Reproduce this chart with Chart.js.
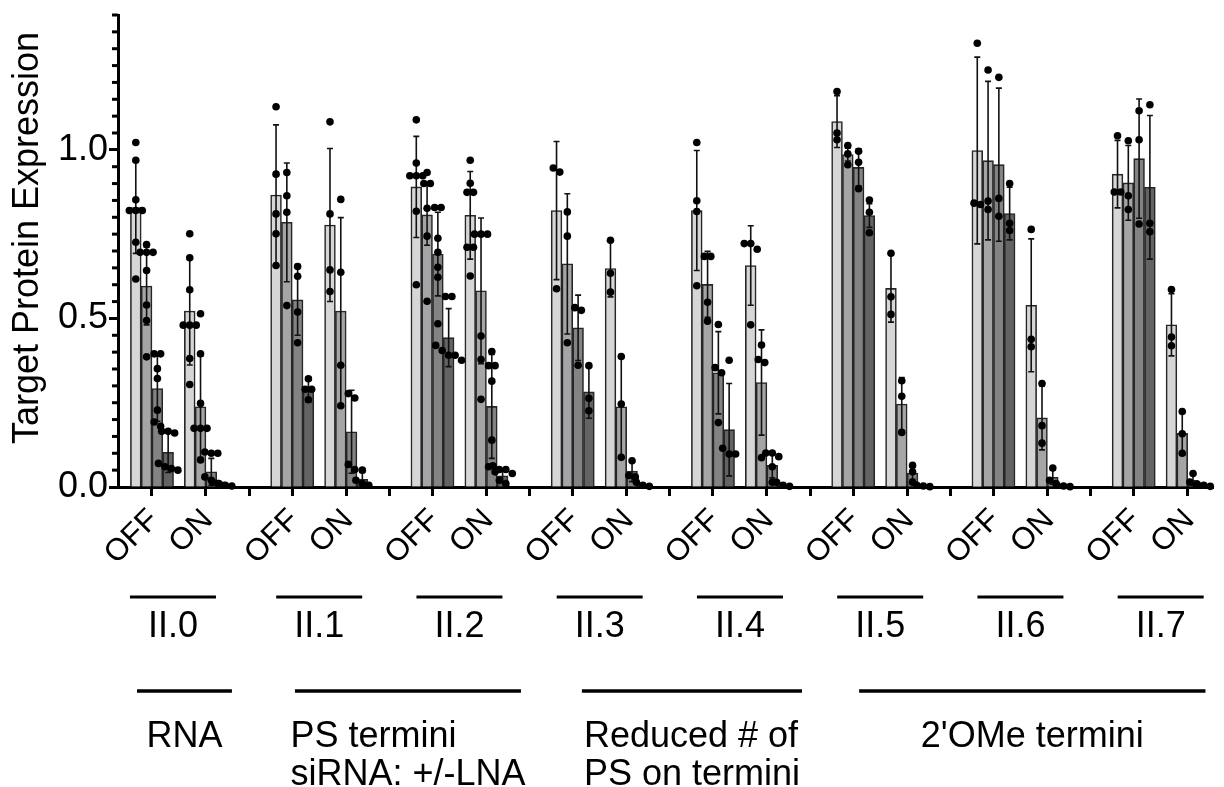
<!DOCTYPE html>
<html>
<head>
<meta charset="utf-8">
<script src="https://cdn.jsdelivr.net/npm/chart.js@4.4.0/dist/chart.umd.min.js"></script>
<style>
  html, body { margin: 0; padding: 0; background: #fff; }
  canvas { display: block; }
</style>
</head>
<body>
<canvas id="chart" width="1224" height="787"></canvas>
<script>
// constructs, each measured OFF and ON
const groups = ["II.0", "II.1", "II.2", "II.3", "II.4", "II.5", "II.6", "II.7"];
const states = ["OFF", "ON"];
const categoryLabels = [["RNA"], ["PS termini", "siRNA: +/-LNA"], ["Reduced # of", "PS on termini"], ["2'OMe termini"]];

// bar heights, order: II.0 OFF, II.0 ON, II.1 OFF, II.1 ON, ...
const mean1 = [0.829, 0.522, 0.866, 0.777, 0.890, 0.806, 0.820, 0.648, 0.820, 0.657, 1.084, 0.589, 0.998, 0.539, 0.928, 0.481];
const mean2 = [0.596, 0.238, 0.785, 0.522, 0.807, 0.582, 0.662, 0.238, 0.601, 0.310, 0.986, 0.246, 0.968, 0.205, 0.902, 0.159];
const mean3 = [0.292, 0.045, 0.555, 0.164, 0.691, 0.239, 0.472, 0.047, 0.339, 0.064, 0.948, 0.041, 0.956, 0.029, 0.974, 0.020];
const mean4 = [0.103, 0.008, 0.289, 0.023, 0.443, 0.033, 0.282, 0.005, 0.170, 0.006, 0.805, 0.003, 0.811, 0.003, 0.889, 0.005];

// standard deviations (error bars)
const sd1 = [0.136, 0.160, 0.208, 0.227, 0.150, 0.130, 0.205, 0.084, 0.178, 0.118, 0.077, 0.100, 0.277, 0.197, 0.100, 0.092];
const sd2 = [0.115, 0.150, 0.176, 0.277, 0.090, 0.216, 0.208, 0.149, 0.098, 0.156, 0.019, 0.079, 0.235, 0.095, 0.111, 0.065];
const sd3 = [0.097, 0.040, 0.105, 0.123, 0.124, 0.154, 0.097, 0.031, 0.122, 0.037, 0.055, 0.018, 0.227, 0.021, 0.177, 0.015];
const sd4 = [0.060, 0.005, 0.037, 0.020, 0.086, 0.020, 0.078, 0.005, 0.137, 0.005, 0.035, 0.002, 0.078, 0.002, 0.213, 0.003];

// individual replicates
const pts1 = [
  [1.022, 0.969, 0.852, 0.82, 0.82, 0.82, 0.726, 0.617], [0.751, 0.68, 0.585, 0.48, 0.48, 0.48, 0.381, 0.304],
  [1.128, 0.928, 0.810, 0.751, 0.657], [1.083, 0.810, 0.644, 0.580],
  [1.089, 0.961, 0.923, 0.923, 0.923, 0.818, 0.600], [0.969, 0.901, 0.874, 0.874, 0.711, 0.711, 0.626],
  [0.946, 0.934, 0.588], [0.732, 0.634, 0.578],
  [1.022, 0.849, 0.817, 0.597], [0.722, 0.722, 0.705, 0.481],
  [1.173, 1.050, 1.030], [0.693, 0.564, 0.512],
  [1.316, 0.842, 0.838], [0.764, 0.438, 0.416],
  [1.042, 0.875, 0.875], [0.586, 0.445, 0.419]
];
const pts2 = [
  [0.719, 0.696, 0.696, 0.696, 0.642, 0.540, 0.494, 0.386], [0.514, 0.395, 0.248, 0.174, 0.174, 0.174, 0.08],
  [0.933, 0.864, 0.815, 0.538], [0.853, 0.637, 0.361, 0.241],
  [0.933, 0.900, 0.900, 0.827, 0.744, 0.551], [0.750, 0.750, 0.750, 0.448, 0.378, 0.260],
  [0.816, 0.744, 0.428], [0.387, 0.246, 0.088],
  [0.684, 0.684, 0.548, 0.492], [0.421, 0.378, 0.369, 0.087],
  [1.013, 0.988, 0.956], [0.315, 0.269, 0.162],
  [1.237, 0.848, 0.823], [0.307, 0.182, 0.130],
  [1.027, 0.864, 0.823], [0.224, 0.158, 0.100]
];
const pts3 = [
  [0.395, 0.395, 0.351, 0.322, 0.228, 0.193, 0.180], [0.104, 0.100, 0.100, 0.030, 0.020, 0.010],
  [0.654, 0.625, 0.519, 0.428], [0.277, 0.264, 0.067, 0.052],
  [0.829, 0.829, 0.738, 0.696, 0.652, 0.622, 0.484], [0.402, 0.360, 0.360, 0.314, 0.139, 0.060, 0.045],
  [0.532, 0.524, 0.361], [0.078, 0.034, 0.030],
  [0.482, 0.354, 0.339, 0.191], [0.101, 0.101, 0.090, 0.060, 0.014],
  [0.996, 0.963, 0.885], [0.064, 0.045, 0.014],
  [1.215, 0.856, 0.803], [0.056, 0.020, 0.010],
  [1.116, 1.030, 0.780], [0.040, 0.015, 0.006]
];
const pts4 = [
  [0.165, 0.165, 0.160, 0.070, 0.060, 0.055, 0.050], [0.015, 0.010, 0.005, 0.003],
  [0.321, 0.290, 0.290, 0.259], [0.050, 0.020, 0.010, 0.005],
  [0.565, 0.565, 0.420, 0.405, 0.391, 0.391, 0.376], [0.063, 0.052, 0.052, 0.040, 0.020, 0.010],
  [0.360, 0.263, 0.226], [0.014, 0.005, 0.002],
  [0.376, 0.115, 0.098, 0.098], [0.014, 0.005, 0.002],
  [0.851, 0.815, 0.754], [0.005, 0.003, 0.001],
  [0.900, 0.782, 0.761], [0.005, 0.003, 0.001],
  [1.134, 0.782, 0.757], [0.008, 0.005, 0.002]
];

const yTicks = ["0.0", "0.5", "1.0"];

const means = [mean1, mean2, mean3, mean4];
const sds = [sd1, sd2, sd3, sd4];
const points = [pts1, pts2, pts3, pts4];
const shadeColors = ["#d6d6d6", "#a5a5a8", "#838383", "#636363"];
const FONT = "'Liberation Sans', Arial, sans-serif";

// x axis is measured in bar widths: 4 bars OFF, 1 gap, 4 bars ON, 4 gap
const PERIOD = 13;
const xOf = (slot, shade) => Math.floor(slot / 2) * PERIOD + 1.65 + (slot % 2) * 5 + shade;

const tickVals = [];
const tickText = [];
groups.forEach((g, gi) => {
  states.forEach((s, si) => {
    tickVals.push(xOf(gi * 2 + si, 1.5));
    tickText.push(s);
  });
  if (gi < groups.length - 1) {
    tickVals.push(gi * PERIOD + 12.15);
    tickText.push("");
  }
});

// Spread replicates that sit on top of each other
function spread(values) {
  const sorted = values.slice().sort((a, b) => b - a);
  const out = [];
  let i = 0;
  while (i < sorted.length) {
    let j = i;
    while (j + 1 < sorted.length && sorted[j] - sorted[j + 1] < 0.018) j++;
    const n = j - i + 1;
    for (let k = i; k <= j; k++) out.push({ dx: (k - i - (n - 1) / 2) * 0.6, v: sorted[k] });
    i = j + 1;
  }
  return out;
}

const dotData = [];
points.forEach((set, k) => {
  set.forEach((vals, i) => {
    spread(vals).forEach((p) => dotData.push({ x: xOf(i, k) + p.dx, y: p.v }));
  });
});

const barSets = means.map((m, k) => ({
  type: "bar",
  label: "shade " + (k + 1),
  data: m.map((v, i) => ({ x: xOf(i, k), y: v })),
  backgroundColor: shadeColors[k],
  borderColor: "#262626",
  borderWidth: 1.6,
  grouped: false,
  barPercentage: 1,
  categoryPercentage: 1,
}));

const dotSet = {
  type: "scatter",
  label: "replicates",
  data: dotData,
  pointRadius: 3.8,
  pointBackgroundColor: "#000",
  pointBorderWidth: 0,
  clip: false,
  order: -1,
};

const errorBars = {
  id: "errorBars",
  beforeDatasetDraw(chart, args) {
    if (args.meta.type !== "scatter") return;
    const { ctx } = chart;
    const x = chart.scales.x;
    const y = chart.scales.y;
    ctx.save();
    ctx.strokeStyle = "#111";
    ctx.lineWidth = 1.6;
    means.forEach((m, k) => {
      m.forEach((v, i) => {
        const px = x.getPixelForValue(xOf(i, k));
        const top = y.getPixelForValue(v + sds[k][i]);
        const bot = y.getPixelForValue(Math.max(0, v - sds[k][i]));
        ctx.beginPath();
        ctx.moveTo(px, top);
        ctx.lineTo(px, bot);
        ctx.moveTo(px - 3, top);
        ctx.lineTo(px + 3, top);
        ctx.moveTo(px - 3, bot);
        ctx.lineTo(px + 3, bot);
        ctx.stroke();
      });
    });
    ctx.restore();
  },
};

const annotations = {
  id: "annotations",
  afterDraw(chart) {
    const { ctx, chartArea } = chart;
    const x = chart.scales.x;
    const y = chart.scales.y;
    const bottom = chartArea.bottom;
    ctx.save();
    ctx.fillStyle = "#000";
    ctx.strokeStyle = "#000";

    // minor ticks on the y axis
    ctx.lineWidth = 3;
    for (let i = 0; i <= 28; i++) {
      if (i % 10 === 0) continue;
      const py = y.getPixelForValue(i * 0.05);
      ctx.beginPath();
      ctx.moveTo(chartArea.left - 6, py);
      ctx.lineTo(chartArea.left, py);
      ctx.stroke();
    }

    // y title
    ctx.save();
    ctx.translate(38, 238);
    ctx.rotate(-Math.PI / 2);
    ctx.font = "36px " + FONT;
    ctx.textAlign = "center";
    ctx.textBaseline = "alphabetic";
    ctx.fillText("Target Protein Expression", 0, 0);
    ctx.restore();

    // construct brackets
    ctx.font = "36px " + FONT;
    ctx.textAlign = "center";
    ctx.textBaseline = "alphabetic";
    groups.forEach((g, gi) => {
      const cx = x.getPixelForValue(gi * PERIOD + 5.65) - (gi === 0 ? 6 : 0);
      ctx.lineWidth = 3;
      ctx.beginPath();
      ctx.moveTo(cx - 43, bottom + 110);
      ctx.lineTo(cx + 43, bottom + 110);
      ctx.stroke();
      ctx.fillText(g, cx, bottom + 150);
    });

    // modification class brackets (span in bar-width units)
    const spans = [[1.76, 10.56], [16.4, 37.35], [43.0, 63.4], [68.7, 100.8]];
    categoryLabels.forEach((lines, ci) => {
      const x0 = x.getPixelForValue(spans[ci][0]);
      const x1 = x.getPixelForValue(spans[ci][1]);
      ctx.lineWidth = 3.5;
      ctx.beginPath();
      ctx.moveTo(x0, bottom + 204);
      ctx.lineTo(x1, bottom + 204);
      ctx.stroke();
      const w = Math.max(...lines.map((t) => ctx.measureText(t).width));
      const left = (x0 + x1) / 2 - w / 2;
      ctx.textAlign = "left";
      lines.forEach((t, li) => ctx.fillText(t, left, bottom + 260 + li * 38));
    });
    ctx.restore();
  },
};

new Chart(document.getElementById("chart"), {
  type: "bar",
  data: { datasets: [...barSets, dotSet] },
  options: {
    responsive: false,
    animation: false,
    layout: { padding: { top: 15, right: 11, left: 0, bottom: 0 } },
    plugins: { legend: { display: false }, tooltip: { enabled: false } },
    scales: {
      x: {
        type: "linear",
        min: 0,
        max: 101.5,
        offset: false,
        afterBuildTicks: (scale) => {
          scale.ticks = tickVals.map((v) => ({ value: v }));
        },
        afterFit: (scale) => {
          scale.height = 300;
          scale.paddingLeft = 0;
          scale.paddingRight = 0;
        },
        ticks: {
          autoSkip: false,
          minRotation: 45,
          maxRotation: 45,
          padding: 6,
          labelOffset: 2,
          color: "#000",
          font: { family: FONT, size: 31 },
          callback: (value, index) => tickText[index],
        },
        grid: {
          offset: false,
          drawOnChartArea: false,
          drawTicks: true,
          tickLength: 9,
          tickWidth: 3,
          tickColor: "#000",
        },
        border: { display: true, width: 3, color: "#000" },
      },
      y: {
        min: 0,
        max: 1.4,
        afterFit: (scale) => {
          scale.width = 118;
          scale.paddingTop = 0;
          scale.paddingBottom = 0;
        },
        ticks: {
          stepSize: 0.05,
          autoSkip: false,
          padding: 1,
          color: "#000",
          font: { family: FONT, size: 36 },
          callback: (value) => {
            const r = Math.round(value * 20);
            return r % 10 === 0 && r / 10 < yTicks.length ? yTicks[r / 10] : null;
          },
        },
        grid: {
          drawOnChartArea: false,
          drawTicks: true,
          tickLength: 9,
          tickWidth: 3,
          tickColor: (c) => (c.tick && Math.round(c.tick.value * 20) % 10 === 0 ? "#000" : "rgba(0,0,0,0)"),
        },
        border: { display: true, width: 3, color: "#000" },
      },
    },
  },
  plugins: [errorBars, annotations],
});
</script>
</body>
</html>
